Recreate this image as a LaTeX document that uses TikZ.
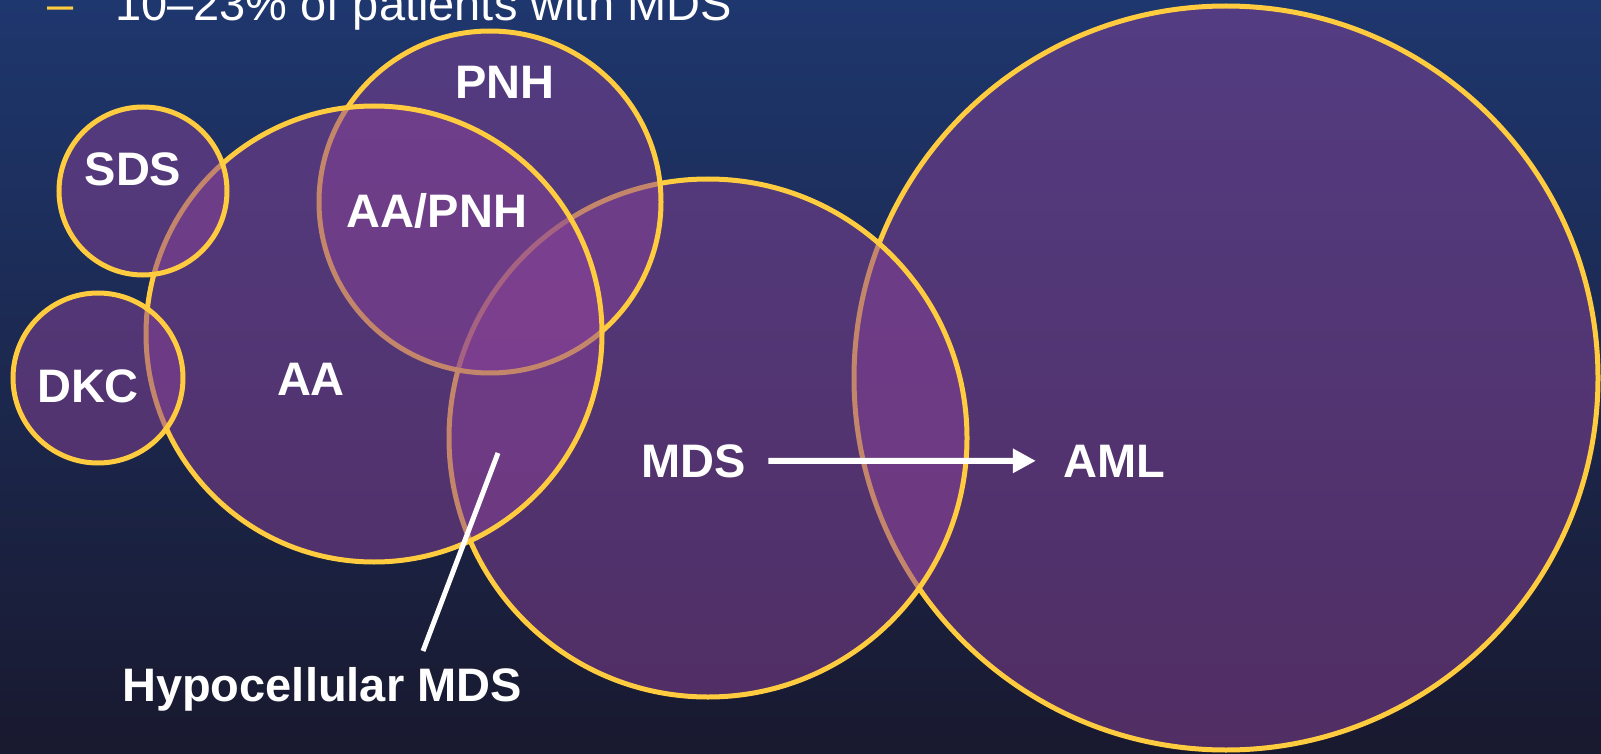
\documentclass[tikz,border=0pt]{standalone}
\usepackage{fontspec}
\setmainfont{Liberation Sans}
\usetikzlibrary{arrows.meta}
\definecolor{bgtop}{RGB}{30,55,110}
\definecolor{bgmid}{RGB}{27,42,85}
\definecolor{bgbot}{RGB}{25,25,47}
\definecolor{ring}{RGB}{255,204,64}
\definecolor{blob}{RGB}{137,66,151}
\begin{document}
\begin{tikzpicture}[x=1pt,y=-1pt,
  setc/.style={circle, draw=ring, line width=5pt, fill=blob, fill opacity=0.5,
    draw opacity=1, inner sep=0pt, outer sep=0pt, minimum size=#1},
  lbl/.style={text=white, font=\fontsize{47}{56}\selectfont\bfseries, inner sep=0pt, anchor=base},
  toptext/.style={text=white, font=\fontsize{47}{56}\selectfont, inner sep=0pt, anchor=base west},
  link/.style={draw=white, line width=6pt},
  pointer/.style={draw=white, line width=5pt}]
\useasboundingbox (0,0) rectangle (1601,754);
\shade[top color=bgtop, middle color=bgmid, bottom color=bgbot] (0,0) rectangle (1601,754);
% top bullet line
\node[toptext, text=ring] (dash) at (47,21) {–};
\node[toptext] (bullet) at (115,21) {10–23\% of patients with MDS};
% circles (drawing order matters)
\node[setc=744pt] (aml) at (1226,378) {};
\node[setc=518pt] (mds) at (708,438) {};
\node[setc=342pt] (pnh) at (490,202) {};
\node[setc=456pt] (aa) at (374,334) {};
\node[setc=168pt] (sds) at (143,191) {};
\node[setc=170pt] (dkc) at (98,378) {};
% labels
\node[lbl] (lpnh) at (505,99) {PNH};
\node[lbl] (lsds) at (133,186) {SDS};
\node[lbl] (laapnh) at (437,228) {AA/PNH};
\node[lbl] (ldkc) at (88,402) {DKC};
\node[lbl] (laa) at (311,395) {AA};
\node[lbl] (lmds) at (694,477) {MDS};
\node[lbl] (laml) at (1114,477) {AML};
\node[lbl] (lhypo) at (322,701) {Hypocellular MDS};
% arrow MDS -> AML
\draw[link, -{Triangle[length=23pt,width=23pt]}, shorten <=22pt, shorten >=27pt] (lmds.east) -- (laml.west);
% pointer to hypocellular MDS
\coordinate (hpa) at (498,453);
\coordinate (hpb) at (423,651);
\draw[pointer] (hpb) -- (hpa);
\end{tikzpicture}
\end{document}
